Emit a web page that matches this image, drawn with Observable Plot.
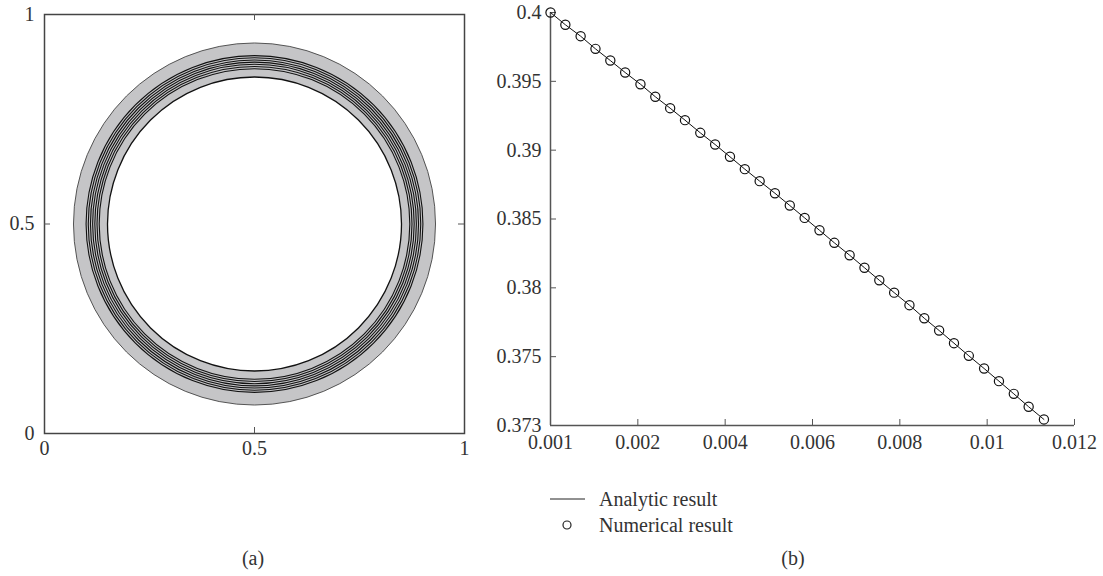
<!DOCTYPE html>
<html>
<head>
<meta charset="utf-8">
<script src="https://cdn.jsdelivr.net/npm/d3@7"></script>
<script src="https://cdn.jsdelivr.net/npm/@observablehq/plot@0.6"></script>
<style>
  html, body { margin: 0; padding: 0; background: #fff; }
  #wrap { position: relative; width: 1103px; height: 576px; overflow: hidden; font-family: "Liberation Serif", "DejaVu Serif", serif; color: #333; }
  #left, #right { position: absolute; top: 0; }
  #left { left: 0; }
  #right { left: 480px; }
  .cap { position: absolute; font-size: 20px; transform: translate(-50%, -50%); white-space: nowrap; }
  .leg { position: absolute; font-size: 20px; white-space: nowrap; transform: translateY(-50%); }
  svg text { font-family: "Liberation Serif", "DejaVu Serif", serif; }
</style>
</head>
<body>
<div id="wrap">
  <div id="left"></div>
  <div id="right"></div>
  <svg id="legsym" width="1103" height="576" style="position:absolute;left:0;top:0;pointer-events:none"></svg>
  <div class="leg" style="left:599px;top:499px">Analytic result</div>
  <div class="leg" style="left:599px;top:525px">Numerical result</div>
  <div class="cap" style="left:253px;top:558px">(a)</div>
  <div class="cap" style="left:793px;top:558px">(b)</div>
</div>
<script>
// ---------- Panel (a): ring contours ----------
const centerX = 0.5;
const centerY = 0.5;
const outerRadius = [0.431];
const innerRadius = [0.35];
const contourRadii = [0.401, 0.3958, 0.3906, 0.3854, 0.3802, 0.375, 0.3698];
const aTicks = [0, 0.5, 1];
const aTickLabels = ["0", "0.5", "1"];
const aInnerTicks = [0.5];

// ---------- Panel (b): analytic vs numerical ----------
const tValues = [0, 0.00034, 0.00069, 0.00103, 0.00137, 0.00171, 0.00206, 0.0024, 0.00274, 0.00308,
  0.00343, 0.00377, 0.00411, 0.00445, 0.00479, 0.00514, 0.00548, 0.00582, 0.00616, 0.0065,
  0.00685, 0.00719, 0.00753, 0.00787, 0.00822, 0.00856, 0.0089, 0.00924, 0.00958, 0.00993,
  0.01027, 0.01061, 0.01095, 0.0113];
const numericalValues = [0.4, 0.39911, 0.39828, 0.39736, 0.39651, 0.39564, 0.39479, 0.39388, 0.39305, 0.39218,
  0.39126, 0.39041, 0.38952, 0.38862, 0.38775, 0.38687, 0.38598, 0.38508, 0.38418, 0.38327,
  0.38237, 0.38146, 0.38055, 0.37965, 0.37874, 0.37779, 0.3769, 0.37598, 0.37506, 0.37414,
  0.37322, 0.3723, 0.37136, 0.37044];
const analyticValues = numericalValues.slice();
const bXTicks = [0, 0.002, 0.004, 0.006, 0.008, 0.01, 0.012];
const bXTickLabels = ["0.001", "0.002", "0.004", "0.006", "0.008", "0.01", "0.012"];
const bYTicks = [0.37, 0.375, 0.38, 0.385, 0.39, 0.395, 0.4];
const bYTickLabels = ["0.373", "0.375", "0.38", "0.385", "0.39", "0.395", "0.4"];

const ink = "#333";
const axisInk = "#555";

// ----- left plot -----
const aW = 480, aH = 470;
const aM = {top: 14, right: 16, bottom: 37, left: 44};
const aInnerW = aW - aM.left - aM.right;
const aInnerH = aH - aM.top - aM.bottom;
const tickLen = 6;

const left = Plot.plot({
  width: aW, height: aH,
  marginTop: aM.top, marginRight: aM.right, marginBottom: aM.bottom, marginLeft: aM.left,
  x: {domain: [0, 1], axis: null},
  y: {domain: [0, 1], axis: null},
  r: {type: "linear", domain: [0, 1], range: [0, aInnerW]},
  style: {fontSize: "20px", fontFamily: "Liberation Serif, serif", color: ink, background: "white"},
  marks: [
    Plot.dot(outerRadius, {x: () => centerX, y: () => centerY, r: d => d, fill: "#c5c5c7", stroke: "#444", strokeWidth: 0.9}),
    Plot.dot(innerRadius, {x: () => centerX, y: () => centerY, r: d => d, fill: "white", stroke: "#111", strokeWidth: 1.3}),
    Plot.dot(contourRadii, {x: () => centerX, y: () => centerY, r: d => d, fill: "none", stroke: "#111", strokeWidth: 1.1}),
    Plot.frame({stroke: "#444", strokeWidth: 1.5}),
    Plot.tickX(aInnerTicks, {x: d => d, stroke: axisInk, strokeWidth: 1, insetTop: aInnerH - tickLen}),
    Plot.tickX(aInnerTicks, {x: d => d, stroke: axisInk, strokeWidth: 1, insetBottom: aInnerH - tickLen}),
    Plot.tickY(aInnerTicks, {y: d => d, stroke: axisInk, strokeWidth: 1, insetRight: aInnerW - tickLen}),
    Plot.tickY(aInnerTicks, {y: d => d, stroke: axisInk, strokeWidth: 1, insetLeft: aInnerW - tickLen}),
    Plot.axisX(aTicks, {anchor: "bottom", label: null, tickSize: 0, tickPadding: 7, fill: ink, fontSize: 20,
      tickFormat: d => aTickLabels[aTicks.indexOf(d)]}),
    Plot.axisY(aTicks, {anchor: "left", label: null, tickSize: 0, tickPadding: 10, fill: ink, fontSize: 20,
      tickFormat: d => aTickLabels[aTicks.indexOf(d)]})
  ]
});
document.getElementById("left").appendChild(left);

// ----- right plot -----
const bW = 623, bH = 462;
const bM = {top: 12, right: 29, bottom: 37, left: 70};
const bInnerW = bW - bM.left - bM.right;
const bInnerH = bH - bM.top - bM.bottom;
const numerical = tValues.map((t, i) => ({t, v: numericalValues[i]}));
const analytic = tValues.map((t, i) => ({t, v: analyticValues[i]}));

const right = Plot.plot({
  width: bW, height: bH,
  marginTop: bM.top, marginRight: bM.right, marginBottom: bM.bottom, marginLeft: bM.left,
  x: {domain: [0, 0.012], axis: null},
  y: {domain: [0.37, 0.4], axis: null},
  style: {fontSize: "20px", fontFamily: "Liberation Serif, serif", color: ink, background: "white", overflow: "visible"},
  marks: [
    Plot.ruleX([0], {stroke: axisInk, strokeWidth: 1.5}),
    Plot.ruleY([0.37], {stroke: axisInk, strokeWidth: 1.5}),
    Plot.tickX(bXTicks.slice(1), {x: d => d, stroke: axisInk, strokeWidth: 1, insetTop: bInnerH - tickLen}),
    Plot.tickY(bYTicks.slice(1), {y: d => d, stroke: axisInk, strokeWidth: 1, insetRight: bInnerW - tickLen}),
    Plot.line(analytic, {x: "t", y: "v", stroke: "#111", strokeWidth: 1}),
    Plot.dot(numerical, {x: "t", y: "v", r: 4.6, stroke: "#111", fill: "none", strokeWidth: 1.2}),
    Plot.axisX(bXTicks, {anchor: "bottom", label: null, tickSize: 0, tickPadding: 9, fill: ink, fontSize: 20,
      tickFormat: d => bXTickLabels[bXTicks.indexOf(d)]}),
    Plot.axisY(bYTicks, {anchor: "left", label: null, tickSize: 0, tickPadding: 9, fill: ink, fontSize: 20,
      tickFormat: d => bYTickLabels[bYTicks.indexOf(d)]})
  ]
});
document.getElementById("right").appendChild(right);

// ----- legend symbols -----
const leg = d3.select("#legsym");
leg.append("line").attr("x1", 550).attr("x2", 585).attr("y1", 499).attr("y2", 499)
  .attr("stroke", "#222").attr("stroke-width", 1);
leg.append("circle").attr("cx", 567).attr("cy", 525).attr("r", 4)
  .attr("fill", "none").attr("stroke", "#222").attr("stroke-width", 1.2);
</script>
</body>
</html>
